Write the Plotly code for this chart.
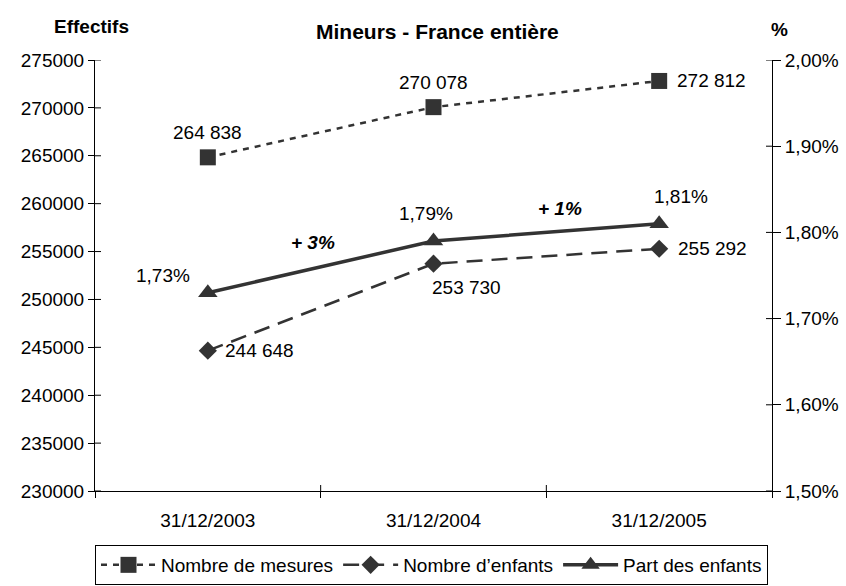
import plotly.graph_objects as go

categories = ["31/12/2003", "31/12/2004", "31/12/2005"]
nombre_mesures = [264838, 270078, 272812]
nombre_enfants = [244648, 253730, 255292]
part_enfants = [0.0173, 0.0179, 0.0181]
evolutions = ["+ 3%", "+ 1%"]
y_ticks = list(range(230000, 275001, 5000))
y2_ticks = [0.015, 0.016, 0.017, 0.018, 0.019, 0.020]

def fmt_int(v):
    return f"{v:,}".replace(",", " ")

def fmt_pct(v):
    return f"{v*100:.2f}%".replace(".", ",")

dark = "#333333"
font_family = "Liberation Sans, Arial, sans-serif"
FS = 19

L, R, T, B = 95, 74, 60, 95
W, H = 846, 586
PW, PH = W - L - R, H - T - B

def px_to_paper(x, y):
    return (x - L) / PW, (H - B - y) / PH

fig = go.Figure()
fig.add_trace(go.Scatter(
    x=categories, y=nombre_mesures, name="Nombre de mesures",
    mode="lines+markers",
    line=dict(color=dark, width=2.5, dash="6px,6px"),
    marker=dict(symbol="square", size=16, color=dark),
))
fig.add_trace(go.Scatter(
    x=categories, y=nombre_enfants, name="Nombre d’enfants",
    mode="lines+markers",
    line=dict(color=dark, width=2.5, dash="16px,9px"),
    marker=dict(symbol="diamond", size=14, color=dark),
))
fig.add_trace(go.Scatter(
    x=categories, y=part_enfants, name="Part des enfants",
    mode="lines+markers", yaxis="y2",
    line=dict(color=dark, width=3.5),
    marker=dict(symbol="triangle-up", size=17, color=dark),
))

# data labels (offsets in px: xanchor, xshift, yshift)
mes_off = [("center", 0, 25), ("center", 0, 25), ("left", 16, 0)]
enf_off = [("left", 15, 0), ("left", -4, -24), ("left", 17, 0)]
part_off = [("center", -45, 17), ("center", -8, 28), ("center", 22, 27)]
for series, offs, fmt, yref in [(nombre_mesures, mes_off, fmt_int, "y"),
                                (nombre_enfants, enf_off, fmt_int, "y"),
                                (part_enfants, part_off, fmt_pct, "y2")]:
    for c, v, (xa, xs, ys) in zip(categories, series, offs):
        fig.add_annotation(x=c, y=v, yref=yref, text=fmt(v), showarrow=False,
                           xanchor=xa, yanchor="middle", xshift=xs, yshift=ys,
                           font=dict(size=FS, color="black"))

# evolution annotations between categories
xshifts = [-8, 14]
for i, label in enumerate(evolutions):
    fig.add_annotation(
        x=i + 0.5, y=(part_enfants[i] + part_enfants[i + 1]) / 2, yref="y2",
        text=f"<b><i>{label}</i></b>", showarrow=False,
        font=dict(size=FS, color="black"), yshift=24, xshift=xshifts[i],
    )

# inner halves of the crossing tick marks
inner = 6
for t in y_ticks:
    fig.add_shape(type="line", xref="paper", yref="y", x0=0, x1=inner / PW,
                  y0=t, y1=t, line=dict(color="black", width=1))
for t in y2_ticks:
    fig.add_shape(type="line", xref="paper", yref="y2", x0=1 - inner / PW, x1=1,
                  y0=t, y1=t, line=dict(color="black", width=1))
for b in [0.5, 1.5]:
    fig.add_shape(type="line", xref="x", yref="paper", x0=b, x1=b,
                  y0=0, y1=inner / PH, line=dict(color="black", width=1))

fig.update_layout(
    width=W, height=H,
    margin=dict(l=L, r=R, t=T, b=B, autoexpand=False),
    paper_bgcolor="white", plot_bgcolor="white",
    separators=", ",
    font=dict(family=font_family, size=FS, color="black"),
    title=dict(text="<b>Mineurs - France entière</b>", x=0.517, xanchor="center",
               y=1 - 32 / H, yanchor="middle", font=dict(size=21)),
    showlegend=True,
    legend=dict(orientation="h", xref="container", yref="container",
                x=95 / W, xanchor="left",
                y=1 - 585 / H, yanchor="bottom", bordercolor="black", borderwidth=1,
                font=dict(size=FS), itemwidth=55, tracegroupgap=0),
    xaxis=dict(type="category", showline=True, linecolor="black", linewidth=1,
               ticks="outside", ticklen=6, tickcolor="black", tickson="boundaries",
               showgrid=False, zeroline=False, range=[-0.5, 2.5],
               tickfont=dict(size=FS), ticklabelstandoff=12),
    yaxis=dict(range=[230000, 275000], tickvals=y_ticks, tickformat="d",
               showline=True, linecolor="black", linewidth=1,
               ticks="outside", ticklen=6, tickcolor="black",
               showgrid=False, zeroline=False, tickfont=dict(size=FS)),
    yaxis2=dict(range=[0.015, 0.020], tickvals=y2_ticks, tickformat=".2%",
                overlaying="y", side="right",
                showline=True, linecolor="black", linewidth=1,
                ticks="outside", ticklen=8, tickcolor="black",
                showgrid=False, zeroline=False, tickfont=dict(size=FS)),
)

ex, ey = px_to_paper(91, 26)
fig.add_annotation(x=ex, y=ey, xref="paper", yref="paper",
                   xanchor="center", yanchor="middle", text="<b>Effectifs</b>",
                   showarrow=False, font=dict(size=19))
px_, py_ = px_to_paper(779, 30)
fig.add_annotation(x=px_, y=py_, xref="paper", yref="paper",
                   xanchor="center", yanchor="middle", text="<b>%</b>",
                   showarrow=False, font=dict(size=19))

fig.write_html("out.html", config={"displayModeBar": False},
               post_script="document.body.style.margin='0';"
                           "document.body.style.overflow='hidden';")
